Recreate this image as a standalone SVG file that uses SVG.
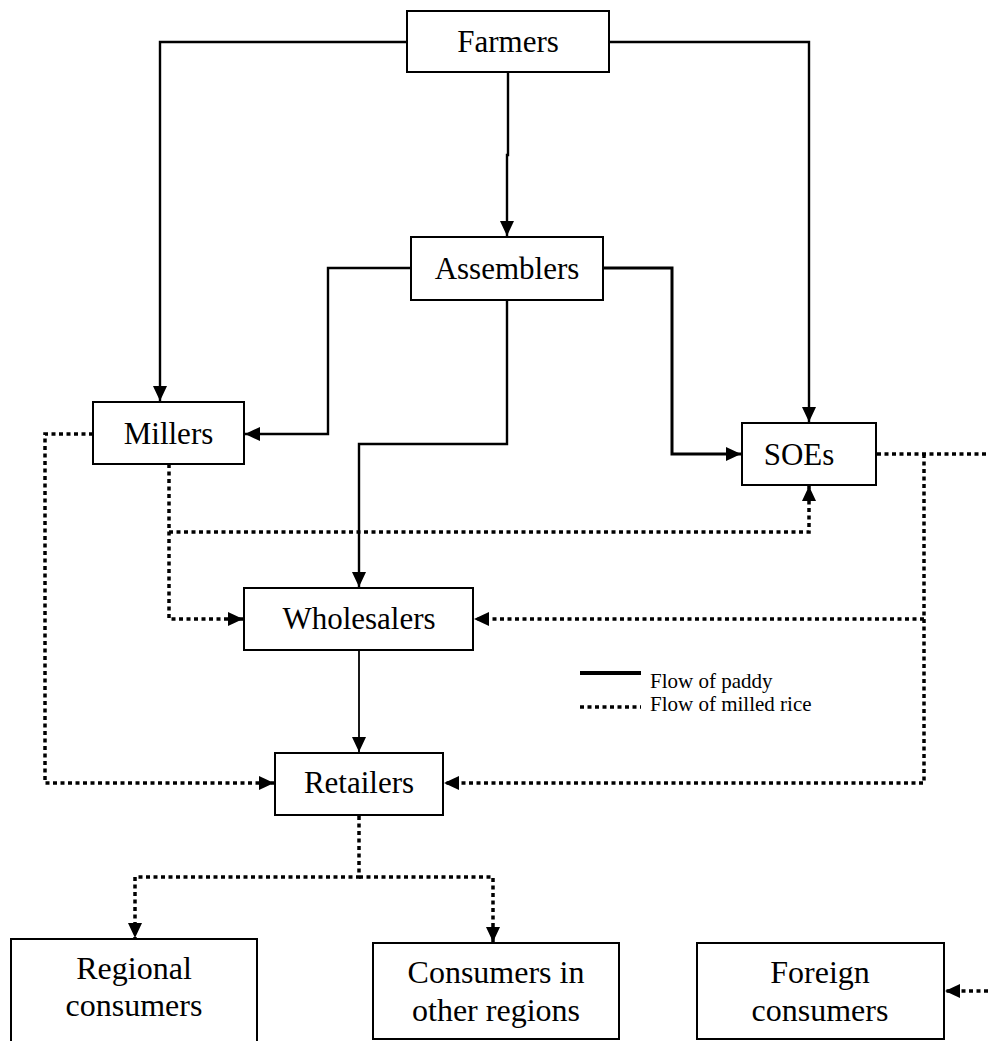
<svg xmlns="http://www.w3.org/2000/svg" width="988" height="1041" viewBox="0 0 988 1041">
<style>
.box{fill:#fff;stroke:#000;stroke-width:2}
.lbl{font-family:"Liberation Serif","Times New Roman",serif;font-size:31px;fill:#000;text-anchor:middle}
.lbl2{font-family:"Liberation Serif","Times New Roman",serif;font-size:32px;fill:#000;text-anchor:middle}
.leg{font-family:"Liberation Serif","Times New Roman",serif;font-size:21px;fill:#000}
.solid{fill:none;stroke:#000;stroke-width:2.4}
.dot{fill:none;stroke:#000;stroke-width:3.5;stroke-dasharray:4 3.5}
</style>
<defs>
<marker id="ah" markerUnits="userSpaceOnUse" markerWidth="16" markerHeight="14" viewBox="0 0 16 14" refX="15" refY="7" orient="auto">
<path d="M0,0 L15,7 L0,14 Z" fill="#000"/>
</marker>
</defs>
<g id="connectors">
<path class="solid" d="M407,42 H160 V401" marker-end="url(#ah)"/>
<path class="solid" d="M609,42 H809 V422" marker-end="url(#ah)"/>
<path class="solid" d="M508,72 V155 H507 V236" marker-end="url(#ah)"/>
<path class="solid" d="M411,268 H328 V434 H245" marker-end="url(#ah)"/>
<path class="solid" d="M603,268 H672 V454 H741" marker-end="url(#ah)" style="stroke-width:3"/>
<path class="solid" d="M507,300 V444 H359 V587" marker-end="url(#ah)"/>
<path class="solid" d="M359,650 V752" marker-end="url(#ah)" style="stroke-width:1.8"/>
<path class="dot" d="M93,434 H45 V783 H274" marker-end="url(#ah)"/>
<path class="dot" d="M169,464 V619 H243" marker-end="url(#ah)"/>
<path class="dot" d="M169,532 H809 V486" marker-end="url(#ah)"/>
<path class="dot" d="M877,454 H988"/>
<path class="dot" d="M924,454 V783 H444" marker-end="url(#ah)"/>
<path class="dot" d="M924,619 H474" marker-end="url(#ah)"/>
<path class="dot" d="M359,816 V877 H135 V938" marker-end="url(#ah)"/>
<path class="dot" d="M359,877 H493 V942" marker-end="url(#ah)"/>
<path class="dot" d="M988,991 H945" marker-end="url(#ah)"/>
</g>
<g id="farmers"><rect class="box" x="407" y="11" width="202" height="61"/><text class="lbl" x="508" y="52">Farmers</text></g>
<g id="assemblers"><rect class="box" x="411" y="237" width="192" height="63"/><text class="lbl" x="507" y="279">Assemblers</text></g>
<g id="millers"><rect class="box" x="93" y="402" width="151" height="62"/><text class="lbl" x="168.5" y="444">Millers</text></g>
<g id="soes"><rect class="box" x="742" y="423" width="134" height="62"/><text class="lbl" x="799" y="465">SOEs</text></g>
<g id="wholesalers"><rect class="box" x="244" y="588" width="229" height="62"/><text class="lbl" x="359" y="629">Wholesalers</text></g>
<g id="retailers"><rect class="box" x="275" y="753" width="168" height="62"/><text class="lbl" x="359" y="793">Retailers</text></g>
<g id="regional"><rect class="box" x="11" y="939" width="246" height="120"/><text class="lbl2" x="134" y="979">Regional</text><text class="lbl2" x="134" y="1016">consumers</text></g>
<g id="other"><rect class="box" x="373" y="943" width="246" height="96"/><text class="lbl2" x="496" y="983">Consumers in</text><text class="lbl2" x="496" y="1021">other regions</text></g>
<g id="foreign"><rect class="box" x="697" y="943" width="247" height="96"/><text class="lbl2" x="820" y="983">Foreign</text><text class="lbl2" x="820" y="1021">consumers</text></g>
<g id="legend">
<path d="M580,673 H641" stroke="#000" stroke-width="4"/>
<path class="dot" d="M580,707 H641"/>
<text class="leg" x="650" y="688">Flow of paddy</text>
<text class="leg" x="650" y="711">Flow of milled rice</text>
</g>
</svg>
